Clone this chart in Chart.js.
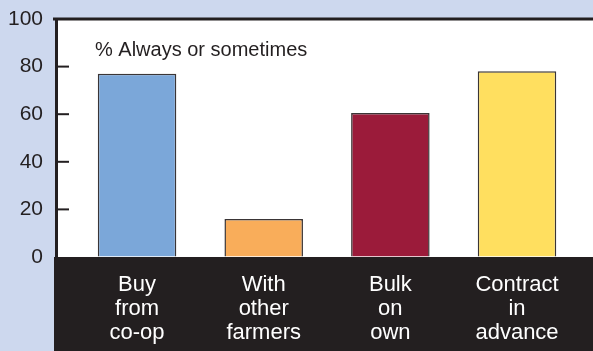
<!DOCTYPE html>
<html lang="en">
<head>
    <meta charset="UTF-8">
    <title>Buying inputs</title>
    <style>
        body {
            margin: 0;
            padding: 0;
            background-color: #cdd8ee;
        }

        .chart-container {
            width: 593px;
            height: 351px;
            position: relative;
        }
    </style>
    <script src="https://cdn.jsdelivr.net/npm/chart.js"></script>
</head>
<body>
    <div class="chart-container">
        <canvas id="buyChart"></canvas>
    </div>

    <script>
        const categories = [
            ['Buy', 'from', 'co-op'],
            ['With', 'other', 'farmers'],
            ['Bulk', 'on', 'own'],
            ['Contract', 'in', 'advance']
        ];
        const values = [77, 16, 60.5, 78];
        const barColors = ['#7ba7d9', '#f9ad5a', '#9b1b3a', '#ffdf5f'];
        const yTicks = [0, 20, 40, 60, 80, 100];
        const subtitle = '% Always or sometimes';

        const ink = '#231f20';
        const fontFamily = "'Liberation Sans', Arial, sans-serif";

        // white plot area, black label band, top rule, inward ticks, subtitle
        const framePlugin = {
            id: 'frame',
            beforeDraw(chart) {
                const { ctx, chartArea } = chart;
                ctx.save();
                ctx.fillStyle = '#ffffff';
                ctx.fillRect(chartArea.left, chartArea.top, chartArea.right - chartArea.left, chartArea.bottom - chartArea.top);
                ctx.fillStyle = ink;
                ctx.fillRect(chartArea.left - 2, chartArea.bottom, chart.width - chartArea.left + 2, chart.height - chartArea.bottom);
                ctx.restore();
            },
            afterDraw(chart) {
                const { ctx, chartArea } = chart;
                const y = chart.scales.y;
                ctx.save();
                ctx.strokeStyle = ink;
                ctx.lineWidth = 3;
                ctx.beginPath();
                ctx.moveTo(chartArea.left - 3, chartArea.top);
                ctx.lineTo(chartArea.right, chartArea.top);
                ctx.stroke();

                ctx.lineWidth = 2;
                yTicks.slice(1, -1).forEach(v => {
                    const py = y.getPixelForValue(v);
                    ctx.beginPath();
                    ctx.moveTo(chartArea.left, py);
                    ctx.lineTo(chartArea.left + 13, py);
                    ctx.stroke();
                });

                ctx.fillStyle = ink;
                ctx.font = '20px ' + fontFamily;
                ctx.textBaseline = 'alphabetic';
                ctx.fillText(subtitle, chartArea.left + 39, chartArea.top + 37);
                ctx.restore();
            }
        };

        const ctx = document.getElementById('buyChart').getContext('2d');

        new Chart(ctx, {
            type: 'bar',
            data: {
                datasets: [{
                    data: values.map((v, i) => ({ x: i, y: v })),
                    backgroundColor: barColors,
                    borderColor: '#3a3536',
                    borderWidth: 1.5,
                    categoryPercentage: 1,
                    barPercentage: 0.62
                }]
            },
            options: {
                responsive: true,
                maintainAspectRatio: false,
                animation: false,
                layout: {
                    padding: { top: 19, right: 0, bottom: 0, left: 0 }
                },
                plugins: {
                    legend: { display: false },
                    tooltip: { enabled: false }
                },
                scales: {
                    x: {
                        type: 'linear',
                        offset: false,
                        min: -0.64,
                        max: 3.6,
                        afterBuildTicks: axis => {
                            axis.ticks = categories.map((c, i) => ({ value: i }));
                        },
                        afterFit: axis => { axis.height = 94; },
                        grid: { display: false, drawTicks: false, offset: false },
                        border: { display: false },
                        ticks: {
                            autoSkip: false,
                            maxRotation: 0,
                            padding: 16,
                            color: '#ffffff',
                            font: { family: fontFamily, size: 22, lineHeight: 1.09 },
                            callback: value => categories[value]
                        }
                    },
                    y: {
                        min: 0,
                        max: 100,
                        afterBuildTicks: axis => {
                            axis.ticks = yTicks.map(v => ({ value: v }));
                        },
                        afterFit: axis => {
                            axis.width = 56;
                            axis.paddingTop = 0;
                            axis.paddingBottom = 0;
                        },
                        grid: { drawOnChartArea: false, drawTicks: false },
                        border: { display: true, color: ink, width: 3 },
                        ticks: {
                            padding: 13,
                            color: ink,
                            font: { family: fontFamily, size: 21 }
                        }
                    }
                }
            },
            plugins: [framePlugin]
        });
    </script>
</body>
</html>
